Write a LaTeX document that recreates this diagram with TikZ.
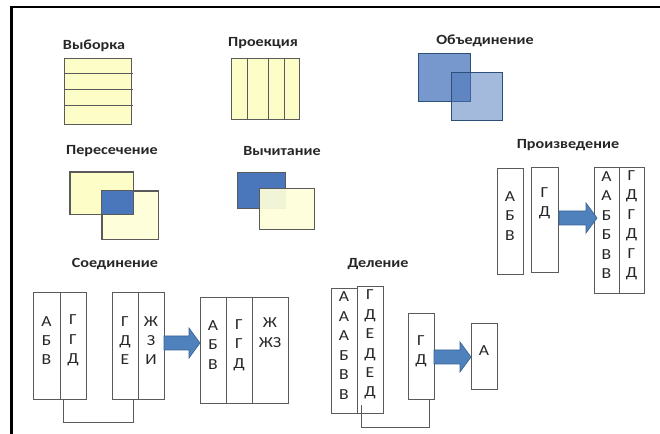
\documentclass[tikz,border=0pt]{standalone}
\usepackage{fontspec}
\setmainfont[FakeStretch=1.15]{Carlito}
\usetikzlibrary{fit}
\definecolor{paleyellow}{RGB}{253,253,200}
\definecolor{paleryellow}{RGB}{254,254,218}
\definecolor{edgegray}{RGB}{90,90,90}
\definecolor{setblue}{RGB}{74,118,188}
\definecolor{unionblue}{RGB}{118,152,204}
\definecolor{arrowblue}{RGB}{79,129,189}
\definecolor{arrowedge}{RGB}{58,100,150}
\tikzset{
  title/.style={font=\fontsize{10.5}{12}\selectfont\bfseries, text=black!85, inner sep=0pt},
  cell/.style={draw=edgegray, line width=0.6pt, fill=white, inner sep=0pt, align=center,
    font=\fontsize{11.5}{14.6}\selectfont, text=black!85},
  ybox/.style={draw=edgegray, line width=0.6pt, fill=paleyellow},
  link/.style={draw=edgegray, line width=0.6pt},
  barrow/.style={fill=arrowblue, draw=arrowedge, line width=0.5pt},
}
% horizontal block arrow: #1 start x, #2 tip x, #3 centre y (all in px)
\newcommand\blockarr[3]{%
  \draw[barrow] (#1,#3-7) -- (#2-11,#3-7) -- (#2-11,#3-15) -- (#2,#3)
    -- (#2-11,#3+15) -- (#2-11,#3+7) -- (#1,#3+7) -- cycle;}
\begin{document}
\begin{tikzpicture}[x=0.75pt,y=-0.75pt]
\useasboundingbox (0,0) rectangle (660,434);
% frame
\draw[line width=1.6pt] (11.5,434) -- (11.5,7) -- (660,7);

% --- Selection
\node[title] (tsel) at (94,46) {Выборка};
\node[ybox, fit={(64,58) (131,124)}, inner sep=0pt] (sel) {};
\foreach \yy in {73,89,105} \draw[edgegray, line width=0.6pt] (sel.west |- 0,\yy) -- (133,\yy);

% --- Projection
\node[title] (tproj) at (263,43) {Проекция};
\node[ybox, fit={(231,58) (299,119)}, inner sep=0pt] (proj) {};
\foreach \xx in {247,268,284} \draw[edgegray, line width=0.6pt] (\xx,0 |- proj.north) -- (\xx,0 |- proj.south);

% --- Union
\node[title] (tuni) at (485,41) {Объединение};
\node[draw=arrowedge!80!black, line width=0.6pt, fill=unionblue, fit={(418,53) (470,101)}, inner sep=0pt] (u1) {};
\node[draw=arrowedge!80!black, line width=0.6pt, fill=setblue, fill opacity=0.5, fit={(451,72) (502,120)}, inner sep=0pt] (u2) {};

% --- Intersection
\node[title] (tint) at (112,151) {Пересечение};
\node[ybox, fit={(70,172) (133,214)}, inner sep=0pt] (i1) {};
\node[ybox, fill=paleryellow, fit={(102,191) (158,239)}, inner sep=0pt] (i2) {};
\fill[setblue] (i2.north west) rectangle (i1.south east);
\draw[edgegray, line width=0.6pt] (i1.north west) rectangle (i1.south east);
\draw[edgegray, line width=0.6pt] (i2.north west) rectangle (i2.south east);

% --- Difference
\node[title] (tdif) at (282,151) {Вычитание};
\node[draw=edgegray, line width=0.6pt, fill=setblue, fit={(237,172) (285,208)}, inner sep=0pt] (m1) {};
\node[ybox, fill=paleryellow, fill opacity=0.93, fit={(259,188) (314,229)}, inner sep=0pt] (m2) {};

% --- Product
\node[title] (tprod) at (568,145) {Произведение};
\node[cell, fit={(497,168) (523,274)}] (p1) {А\\Б\\В};
\node[cell, fit={(531,167) (558,272)}] (p2) {Г\\Д\\\strut};
\node[cell, fit={(594,167) (619,293)}] (p3) {А\\А\\Б\\Б\\В\\В};
\node[cell, fit={(619,167) (644,293)}] (p4) {Г\\Д\\Г\\Д\\Г\\Д};
\blockarr{559}{597}{218}

% --- Join
\node[title] (tjoin) at (115,264) {Соединение};
\node[cell, fit={(33,292) (60,399)}] (j1) {А\\Б\\В};
\node[cell, fit={(60,292) (86,399)}] (j2) {Г\\Г\\Д};
\node[cell, fit={(112,292) (138,399)}] (j3) {Г\\Д\\Е};
\node[cell, fit={(138,292) (164,399)}] (j4) {Ж\\З\\И};
\node[cell, fit={(200,297) (226,403)}] (j5) {А\\Б\\В};
\node[cell, fit={(226,297) (252,403)}] (j6) {Г\\Г\\Д};
\node[cell, fit={(252,297) (288,403)}] (j7) {Ж\\ЖЗ\\\strut};
\blockarr{164}{200}{343}
\draw[link] ([xshift=3pt]j2.south west) -- ++(0,23) -| ([xshift=-3.75pt]j3.south east);

% --- Division
\node[title] (tdiv) at (378,264) {Деление};
\node[cell, fit={(331,288) (357,413)}] (d1) {А\\А\\А\\Б\\В\\В};
\node[cell, fit={(357,286) (383,413)}] (d2) {Г\\Д\\Е\\Д\\Е\\Д};
\node[cell, fit={(408,313) (434,399)}] (d3) {Г\\Д};
\node[cell, fit={(471,323) (497,389)}] (d4) {А};
\blockarr{434}{471}{357}
\draw[link] ([xshift=3.75pt,yshift=6pt]d2.south west) -- ++(0,22) -| ([xshift=-3.75pt]d3.south east);
\end{tikzpicture}
\end{document}
